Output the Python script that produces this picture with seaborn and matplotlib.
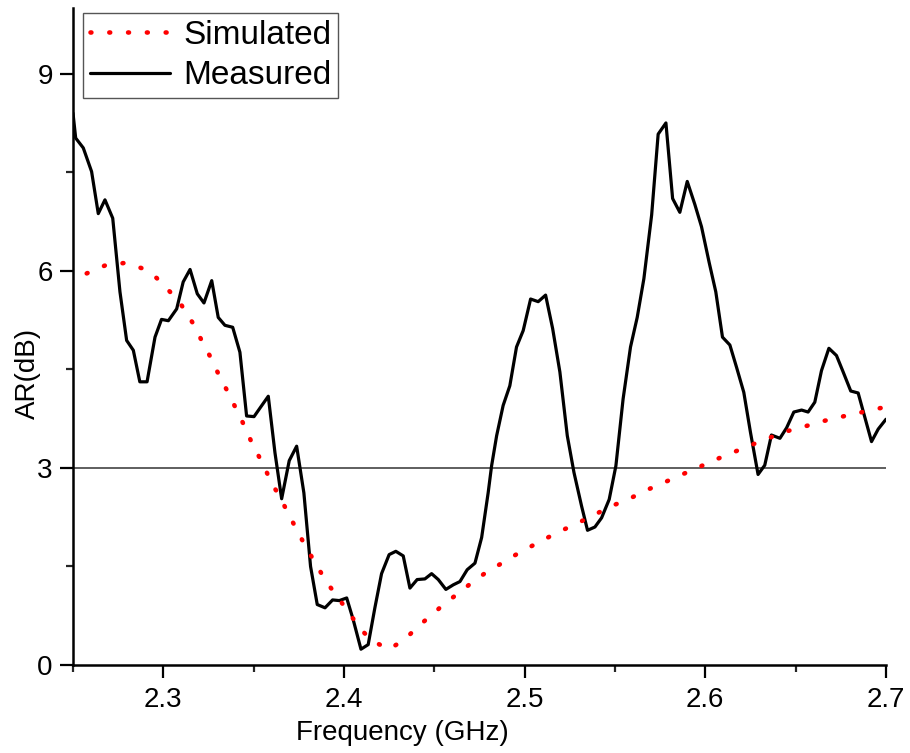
import matplotlib
matplotlib.use("Agg")
import matplotlib.pyplot as plt
import seaborn as sns

# Axial ratio of the antenna: measured vs. simulated
meas_freq = [2.2500, 2.2515, 2.2557, 2.2603, 2.2640, 2.2677, 2.2720, 2.2760, 2.2797, 2.2834,
             2.2870, 2.2910, 2.2954, 2.2990, 2.3028, 2.3074, 2.3110, 2.3148, 2.3188, 2.3225,
             2.3268, 2.3304, 2.3341, 2.3384, 2.3424, 2.3461, 2.3502, 2.3540, 2.3581, 2.3618,
             2.3655, 2.3697, 2.3738, 2.3778, 2.3815, 2.3852, 2.3895, 2.3937, 2.3974, 2.4015,
             2.4051, 2.4094, 2.4134, 2.4171, 2.4208, 2.4250, 2.4287, 2.4328, 2.4365, 2.4405,
             2.4448, 2.4485, 2.4522, 2.4564, 2.4605, 2.4642, 2.4682, 2.4725, 2.4762, 2.4798,
             2.4817, 2.4845, 2.4881, 2.4918, 2.4955, 2.4992, 2.5033, 2.5075, 2.5116, 2.5155,
             2.5195, 2.5236, 2.5273, 2.5315, 2.5348, 2.5389, 2.5426, 2.5468, 2.5505, 2.5545,
             2.5586, 2.5623, 2.5660, 2.5703, 2.5739, 2.5782, 2.5819, 2.5859, 2.5900, 2.5942,
             2.5979, 2.6021, 2.6058, 2.6095, 2.6136, 2.6173, 2.6213, 2.6250, 2.6292, 2.6329,
             2.6366, 2.6413, 2.6450, 2.6490, 2.6533, 2.6569, 2.6606, 2.6643, 2.6684, 2.6726,
             2.6763, 2.6805, 2.6846, 2.6883, 2.6920, 2.6957, 2.7000]
meas_ar = [8.40, 8.02, 7.87, 7.51, 6.87, 7.08, 6.80, 5.68, 4.94, 4.79,
           4.31, 4.31, 4.99, 5.26, 5.24, 5.42, 5.83, 6.02, 5.65, 5.51,
           5.85, 5.29, 5.17, 5.14, 4.76, 3.79, 3.78, 3.93, 4.09, 3.23,
           2.53, 3.11, 3.33, 2.62, 1.50, 0.92, 0.87, 0.99, 0.98, 1.02,
           0.69, 0.24, 0.31, 0.87, 1.39, 1.68, 1.73, 1.66, 1.17, 1.30,
           1.31, 1.39, 1.30, 1.15, 1.22, 1.27, 1.45, 1.55, 1.94, 2.62,
           3.03, 3.49, 3.95, 4.25, 4.84, 5.09, 5.57, 5.53, 5.63, 5.12,
           4.46, 3.49, 2.93, 2.42, 2.05, 2.10, 2.24, 2.52, 3.03, 4.05,
           4.84, 5.29, 5.88, 6.85, 8.08, 8.25, 7.10, 6.89, 7.36, 7.01,
           6.67, 6.13, 5.68, 4.99, 4.87, 4.53, 4.15, 3.54, 2.90, 3.04,
           3.50, 3.45, 3.61, 3.85, 3.88, 3.85, 4.00, 4.48, 4.82, 4.71,
           4.46, 4.17, 4.14, 3.77, 3.40, 3.59, 3.74]

sim_freq = [2.2576, 2.2677, 2.2788, 2.2880, 2.2963, 2.3037, 2.3102, 2.3162, 2.3212, 2.3264,
            2.3310, 2.3360, 2.3406, 2.3452, 2.3498, 2.3550, 2.3594, 2.3646, 2.3697, 2.3747,
            2.3797, 2.3852, 2.3904, 2.3963, 2.4029, 2.4088, 2.4153, 2.4250, 2.4337, 2.4411,
            2.4485, 2.4559, 2.4638, 2.4715, 2.4798, 2.4881, 2.4970, 2.5080, 2.5177, 2.5278,
            2.5376, 2.5472, 2.5573, 2.5665, 2.5758, 2.5855, 2.5948, 2.6043, 2.6140, 2.6237,
            2.6339, 2.6440, 2.6538, 2.6634, 2.6741, 2.6837, 2.6938, 2.7000]
sim_ar = [5.96, 6.08, 6.12, 6.04, 5.89, 5.68, 5.47, 5.21, 4.94, 4.67,
          4.40, 4.14, 3.88, 3.62, 3.33, 3.07, 2.80, 2.55, 2.28, 2.01,
          1.76, 1.50, 1.26, 1.04, 0.79, 0.56, 0.37, 0.24, 0.39, 0.59,
          0.76, 0.94, 1.10, 1.27, 1.43, 1.56, 1.71, 1.87, 2.01, 2.14,
          2.27, 2.41, 2.52, 2.65, 2.76, 2.88, 2.99, 3.11, 3.22, 3.33,
          3.44, 3.55, 3.62, 3.70, 3.77, 3.83, 3.89, 3.93]

threshold_db = 3

x_major = [2.3, 2.4, 2.5, 2.6, 2.7]
x_major_labels = ["2.3", "2.4", "2.5", "2.6", "2.7"]
x_minor = [2.25, 2.35, 2.45, 2.55, 2.65]
y_major = [0, 3, 6, 9]
y_minor = [1.5, 4.5, 7.5]

sns.set_style("ticks")
plt.rcParams["font.family"] = ["Liberation Sans", "DejaVu Sans"]
plt.rcParams["text.color"] = "black"
plt.rcParams["axes.labelcolor"] = "black"

fig = plt.figure(figsize=(9.1, 7.53), dpi=100)
ax = fig.add_axes([0.0802, 0.1169, 0.8934, 0.8725])

ax.axhline(threshold_db, color="#333333", lw=1.1, zorder=1)

sns.lineplot(x=sim_freq, y=sim_ar, ax=ax, color="#ff0000", linewidth=3.3,
             linestyle=(0, (0.2, 3.9)), dash_capstyle="round",
             label="Simulated", zorder=3, sort=False)
sns.lineplot(x=meas_freq, y=meas_ar, ax=ax, color="black", linewidth=2.3,
             label="Measured", zorder=2, sort=False)

ax.set_xlim(2.25, 2.7)
ax.set_ylim(0, 10)
ax.set_xticks(x_major)
ax.set_xticklabels(x_major_labels)
ax.set_xticks(x_minor, minor=True)
ax.set_yticks(y_major)
ax.set_yticks(y_minor, minor=True)

ax.tick_params(which="major", direction="out", length=9.5, width=1.6,
               labelsize=20, colors="black")
ax.tick_params(axis="x", which="major", pad=6)
ax.tick_params(axis="y", which="major", pad=5)
ax.tick_params(which="minor", direction="out", length=4.7, width=1.6)

for side in ("top", "right"):
    ax.spines[side].set_visible(False)
for side in ("left", "bottom"):
    ax.spines[side].set_linewidth(1.8)
    ax.spines[side].set_color("black")

ax.set_xlabel("Frequency (GHz)", fontsize=20, color="black")
ax.xaxis.set_label_coords(0.405, -0.084)
ax.set_ylabel("AR(dB)", fontsize=20, color="black")
ax.yaxis.set_label_coords(-0.040, 0.444)

leg = ax.legend(loc="upper left", bbox_to_anchor=(0.0123, 0.992), borderaxespad=0,
                fontsize=24, handlelength=2.4, handletextpad=0.4, labelspacing=0.28,
                borderpad=0.2, frameon=True, fancybox=False, edgecolor="#555555",
                framealpha=1)
leg.get_frame().set_linewidth(1.0)
for txt in leg.get_texts():
    txt.set_color("black")

fig.savefig("out.png", dpi=100)
